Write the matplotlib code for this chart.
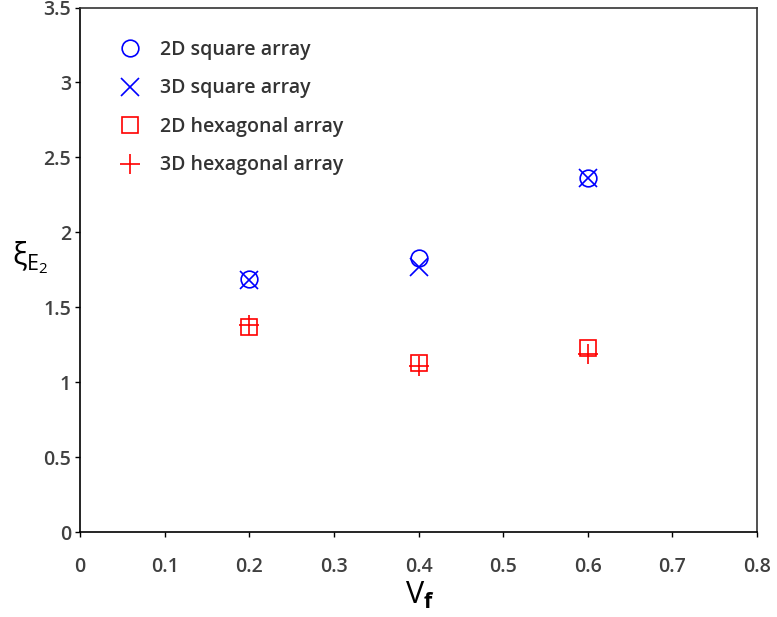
import matplotlib
matplotlib.use("Agg")
import matplotlib.pyplot as plt

plt.rcParams['font.family'] = ['Open Sans', 'DejaVu Sans']
plt.rcParams['mathtext.fontset'] = 'custom'
plt.rcParams['mathtext.rm'] = 'Open Sans'
plt.rcParams['mathtext.it'] = 'Open Sans'
plt.rcParams['mathtext.bf'] = 'Open Sans:bold'

vf = [0.2, 0.4, 0.6]
sq2d = [1.69, 1.83, 2.36]
sq3d = [1.68, 1.77, 2.36]
hex2d = [1.37, 1.13, 1.23]
hex3d = [1.38, 1.11, 1.19]

xticks = [0, 0.1, 0.2, 0.3, 0.4, 0.5, 0.6, 0.7, 0.8]
xticklabels = ['0', '0.1', '0.2', '0.3', '0.4', '0.5', '0.6', '0.7', '0.8']
yticks = [0, 0.5, 1, 1.5, 2, 2.5, 3, 3.5]
yticklabels = ['0', '0.5', '1', '1.5', '2', '2.5', '3', '3.5']

W, H = 777, 617
fig = plt.figure(figsize=(W / 100, H / 100), dpi=100)
ax = fig.add_axes([80 / W, (H - 532.3) / H, (757 - 80) / W, (532.3 - 7.5) / H])

blue = '#0000ff'
red = '#ff0000'
ax.plot(vf, sq2d, linestyle='none', marker='o', ms=12, mfc='none', mec=blue, mew=1.2, label='2D square array')
ax.plot(vf, sq3d, linestyle='none', marker='x', ms=13.5, mec=blue, mew=1.2, label='3D square array')
ax.plot(vf, hex2d, linestyle='none', marker='s', ms=12, mfc='none', mec=red, mew=1.2, label='2D hexagonal array')
ax.plot(vf, hex3d, linestyle='none', marker='+', ms=15, mec=red, mew=1.2, label='3D hexagonal array')

ax.set_xlim(0, 0.8)
ax.set_ylim(0, 3.5)
ax.set_xticks(xticks)
ax.set_xticklabels(xticklabels)
ax.set_yticks(yticks)
ax.set_yticklabels(yticklabels)
ax.tick_params(direction='out', length=3.5, width=1, colors='black', labelcolor='#404040',
               labelsize=14)
ax.tick_params(axis='x', pad=14)
ax.tick_params(axis='y', pad=3)
for lab in ax.get_xticklabels() + ax.get_yticklabels():
    lab.set_fontweight('semibold')
for s in ax.spines.values():
    s.set_linewidth(1.2)
    s.set_color('black')
ax.spines['top'].set_color('#333333')
ax.spines['right'].set_color('#333333')

fig.text(30 / W, 1 - 258 / H, r'$\mathrm{\xi}_{\mathrm{E}_{2}}$', fontsize=22, color='black',
         ha='center', va='center')
fig.text(420 / W, 1 - 595 / H, r'$\mathrm{V}_{\mathbf{f}}$', fontsize=22, color='black', ha='center', va='center')

leg = ax.legend(loc='upper left', bbox_to_anchor=(0.041, 0.953), frameon=False, fontsize=14,
                handletextpad=0.8, labelspacing=0.95, handlelength=1.5, borderaxespad=0)
for t in leg.get_texts():
    t.set_color('#333333')
    t.set_fontweight('semibold')

fig.savefig('out.png', dpi=100)
